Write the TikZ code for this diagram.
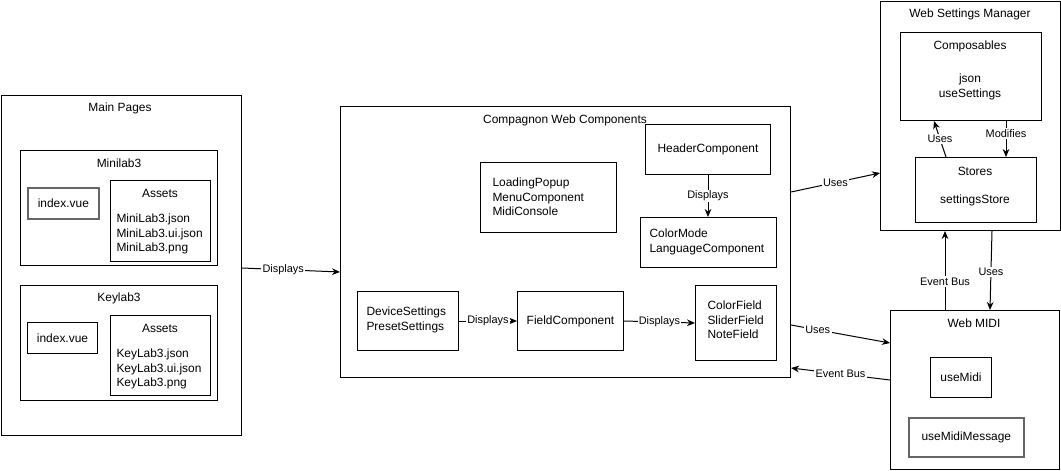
\documentclass[tikz,border=0pt]{standalone}
\usepackage{fontspec}
\setmainfont{Liberation Sans}
\usetikzlibrary{arrows.meta}

\newcommand{\pbox}[7][]{
  \node [box,minimum width=#5*0.75pt,minimum height=#6*0.75pt,#1] (#2) at (#3,#4) {#7};
}

\begin{document}
\begin{tikzpicture}[x=0.75pt,y=-0.75pt,line width=0.75pt,
    box/.style={draw,anchor=north west,inner sep=0pt,align=center},
    graybox/.style={draw=gray!80!black,line width=1.3pt},
    txt/.style={inner sep=0pt,align=left},
    arr/.style={-{Stealth[length=6pt,width=5pt]}},
    lbl/.style={fill=white,inner sep=1pt,font=\fontsize{8.2}{9.8}\selectfont},
    every node/.append style={font=\fontsize{8.95}{10.9}\selectfont}]
      \useasboundingbox (0,0) rectangle (1061,471);

      \pbox{main}{1}{95}{240}{340}{}
      \pbox{mini}{20}{150}{197}{115}{}
      \pbox[graybox]{miniidx}{27}{187}{71}{31}{index.vue}
      \pbox{miniast}{110}{180}{100}{81}{}
      \pbox{key}{20}{285}{197}{115}{}
      \pbox{keyidx}{27}{322}{70}{31}{index.vue}
      \pbox{keyast}{110}{315}{100}{80}{}

      \node [txt] (mainT) at (120,108) {Main Pages};
      \node [txt] (miniT) at (119,163) {Minilab3};
      \node [txt] (miniastT) at (160,193) {Assets};
      \node [txt,anchor=west] (miniL) at (116,234) {MiniLab3.json\\MiniLab3.ui.json\\MiniLab3.png};
      \node [txt] (keyT) at (119,298) {Keylab3};
      \node [txt] (keyastT) at (160,328) {Assets};
      \node [txt,anchor=west] (keyL) at (116,369) {KeyLab3.json\\KeyLab3.ui.json\\KeyLab3.png};

      \pbox{cmp}{340}{106}{450}{271}{}
      \pbox{hdr}{645}{124}{125}{50}{HeaderComponent}
      \pbox{lang}{640}{217}{136}{50}{}
      \pbox{load}{480}{162}{136}{70}{}
      \pbox{dev}{357}{291}{101}{59}{}
      \pbox{fld}{517}{291}{106}{59}{FieldComponent}
      \pbox{cfld}{695}{285}{81}{75}{}

      \node [txt] (cmpT) at (565,120) {Compagnon Web Components};
      \node [txt,anchor=west] (langT) at (649,242) {ColorMode\\LanguageComponent};
      \node [txt,anchor=west] (loadT) at (492,197) {LoadingPopup\\MenuComponent\\MidiConsole};
      \node [txt,anchor=west] (devT) at (366,320) {DeviceSettings\\PresetSettings};
      \node [txt,anchor=west] (cfldT) at (707,320) {ColorField\\SliderField\\NoteField};

      \pbox{wsm}{880}{1}{180}{229}{}
      \pbox{comp}{900}{32}{141}{88}{}
      \pbox{sto}{915}{157}{121}{65}{}
      \pbox{midi}{890}{310}{169}{159}{}
      \pbox{umidi}{930}{357}{61}{40}{useMidi}
      \pbox[graybox]{umsg}{908}{417}{115}{39}{useMidiMessage}

      \node [txt] (wsmT) at (970,14) {Web Settings Manager};
      \node [txt] (compT) at (970,46) {Composables};
      \node [txt,align=center] (compL) at (970,87) {json\\useSettings};
      \node [txt] (stoT) at (975,171) {Stores};
      \node [txt] (stoL) at (975,200) {settingsStore};
      \node [txt] (midiT) at (974,323) {Web MIDI};

      \draw [arr] (main.east |- 0,268) -- node [lbl,pos=0.42] {Displays} (cmp.west |- 0,272);
      \draw [arr] (hdr.south) -- node [lbl] {Displays} (hdr.south |- lang.north);
      \draw [arr] (dev.east) -- node [lbl] {Displays} (fld.west);
      \draw [arr] (fld.east) -- node [lbl] {Displays} (cfld.west |- 0,323);
      \draw [arr] (cmp.east |- 0,192) -- node [lbl] {Uses} (wsm.west |- 0,173);
      \draw [arr] (sto.north -| 946,0) -- node [lbl] {Uses} (comp.south -| 934,0);
      \draw [arr] (comp.south -| 1006,0) -- node [lbl,pos=0.35] {Modifies} (sto.north -| 1006,0);
      \draw [arr] (cmp.east |- 0,325) -- node [lbl,pos=0.27] {Uses} (midi.west |- 0,343);
      \draw [arr] (midi.west |- 0,380) -- node [lbl] {Event Bus} (cmp.east |- 0,368);
      \draw [arr] (midi.north -| 945,0) -- node [lbl,pos=0.36] {Event Bus} (wsm.south -| 945,0);
      \draw [arr] (wsm.south -| 992,0) -- node [lbl,pos=0.52] {Uses} (midi.north -| 990,0);
\end{tikzpicture}
\end{document}
